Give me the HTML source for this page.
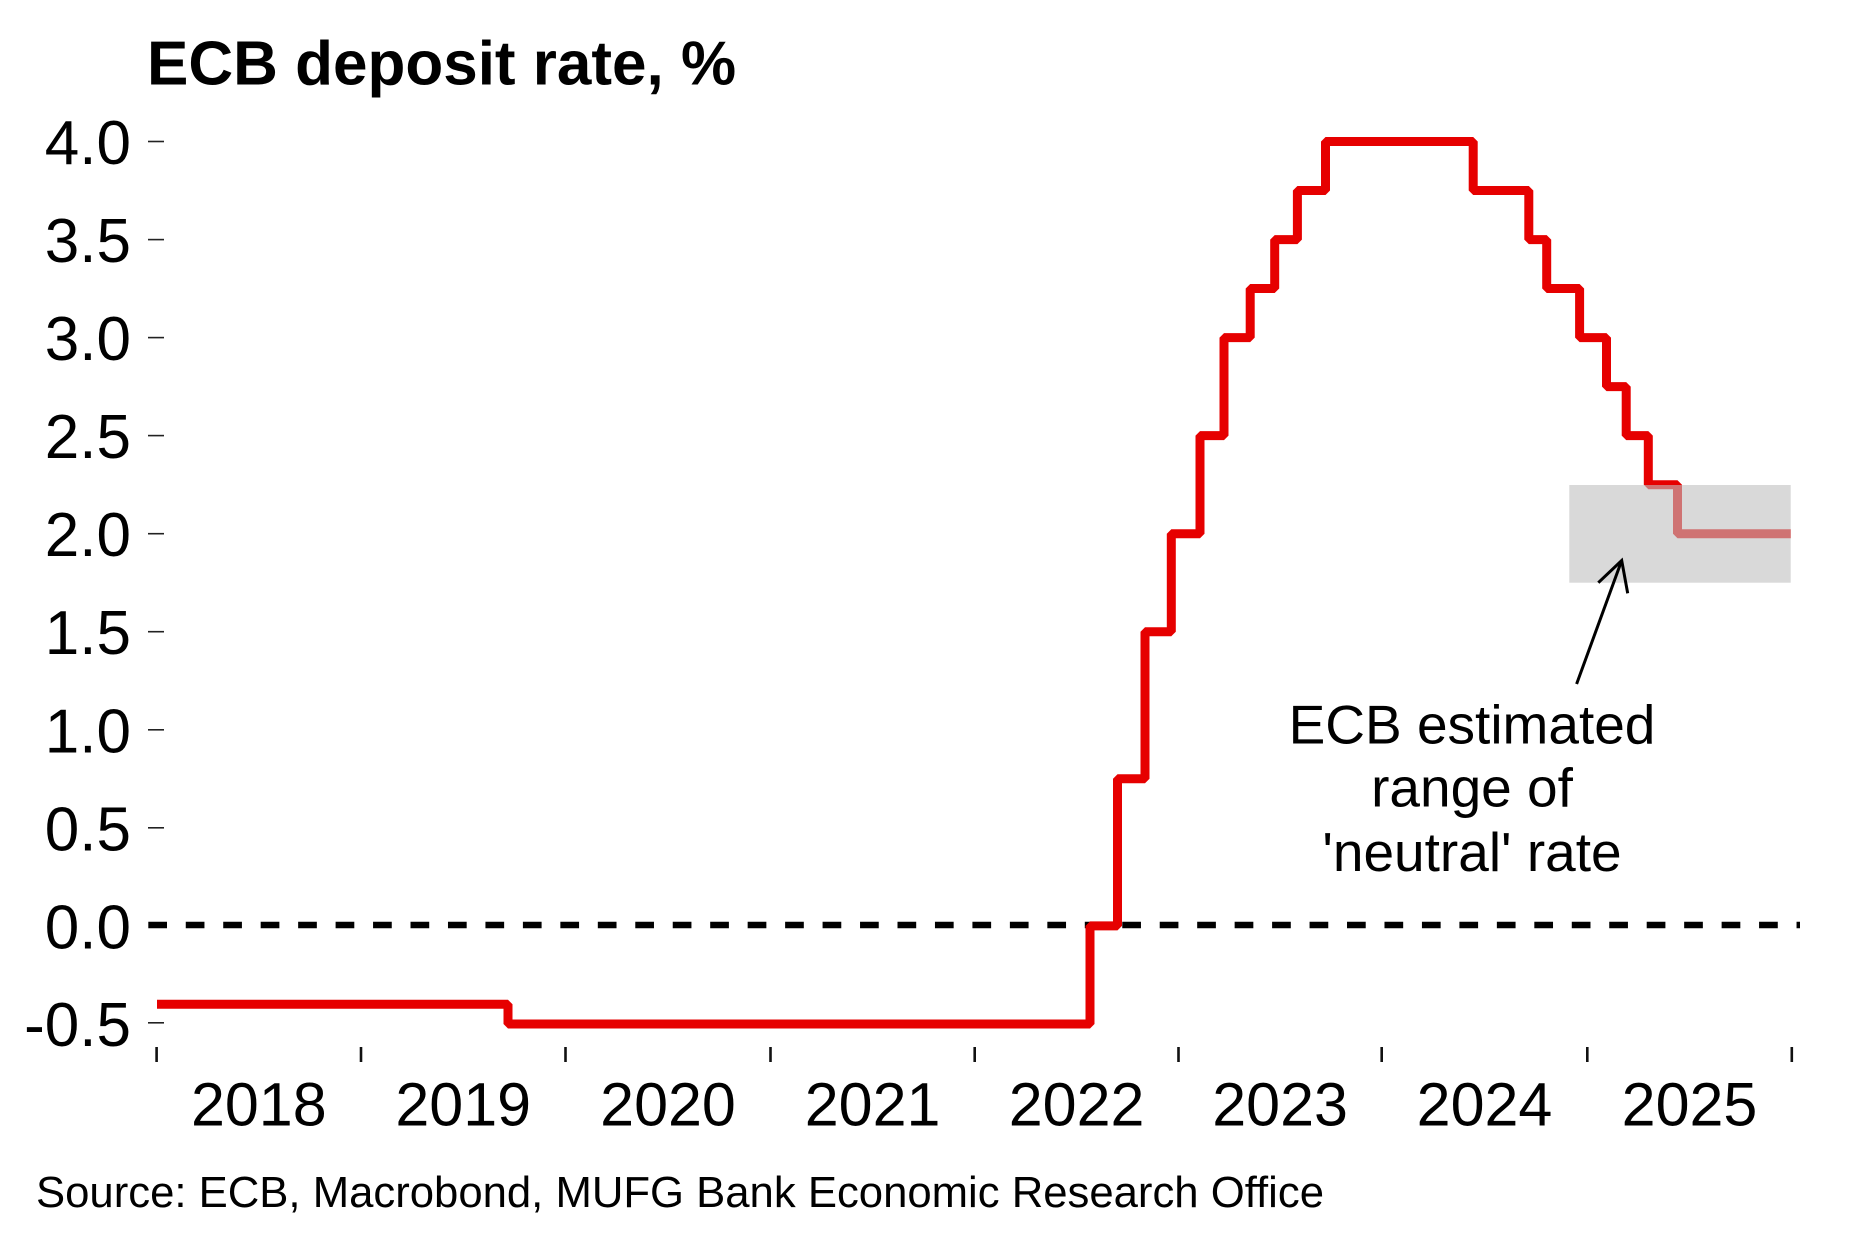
<!DOCTYPE html>
<html>
<head>
<meta charset="utf-8">
<style>
  html, body { margin: 0; padding: 0; background: #ffffff; }
  svg { display: block; }
  text { font-family: "Liberation Sans", Arial, sans-serif; fill: #000; }
</style>
</head>
<body>
<svg width="1874" height="1251" viewBox="0 0 1874 1251" xmlns="http://www.w3.org/2000/svg">
  <rect x="0" y="0" width="1874" height="1251" fill="#ffffff"/>

  <!-- Title -->
  <text x="147" y="84.5" font-size="62" font-weight="bold">ECB deposit rate, %</text>

  <!-- Y-axis tick marks -->
  <g stroke="#222" stroke-width="1.6">
    <line x1="148" y1="141.5" x2="164" y2="141.5"/>
    <line x1="148" y1="239.6" x2="164" y2="239.6"/>
    <line x1="148" y1="337.6" x2="164" y2="337.6"/>
    <line x1="148" y1="435.6" x2="164" y2="435.6"/>
    <line x1="148" y1="533.7" x2="164" y2="533.7"/>
    <line x1="148" y1="631.7" x2="164" y2="631.7"/>
    <line x1="148" y1="729.8" x2="164" y2="729.8"/>
    <line x1="148" y1="827.8" x2="164" y2="827.8"/>
    <line x1="148" y1="1022.8" x2="164" y2="1022.8"/>
  </g>

  <!-- Y-axis labels -->
  <g font-size="62" text-anchor="end">
    <text x="131" y="164">4.0</text>
    <text x="131" y="262.1">3.5</text>
    <text x="131" y="360.1">3.0</text>
    <text x="131" y="458.1">2.5</text>
    <text x="131" y="556.2">2.0</text>
    <text x="131" y="654.2">1.5</text>
    <text x="131" y="752.3">1.0</text>
    <text x="131" y="850.3">0.5</text>
    <text x="131" y="948.4">0.0</text>
    <text x="131" y="1046">-0.5</text>
  </g>

  <!-- X-axis ticks -->
  <g stroke="#111" stroke-width="2.6">
    <line x1="156.6" y1="1047" x2="156.6" y2="1062"/>
    <line x1="361" y1="1047" x2="361" y2="1062"/>
    <line x1="565.5" y1="1047" x2="565.5" y2="1062"/>
    <line x1="770.5" y1="1047" x2="770.5" y2="1062"/>
    <line x1="974.7" y1="1047" x2="974.7" y2="1062"/>
    <line x1="1178.5" y1="1047" x2="1178.5" y2="1062"/>
    <line x1="1381.7" y1="1047" x2="1381.7" y2="1062"/>
    <line x1="1587.3" y1="1047" x2="1587.3" y2="1062"/>
    <line x1="1791.8" y1="1047" x2="1791.8" y2="1062"/>
  </g>

  <!-- X-axis labels -->
  <g font-size="61" text-anchor="middle">
    <text x="258.8" y="1125.5">2018</text>
    <text x="463.2" y="1125.5">2019</text>
    <text x="668" y="1125.5">2020</text>
    <text x="872.6" y="1125.5">2021</text>
    <text x="1076.6" y="1125.5">2022</text>
    <text x="1280.1" y="1125.5">2023</text>
    <text x="1484.5" y="1125.5">2024</text>
    <text x="1689.5" y="1125.5">2025</text>
  </g>

  <!-- Zero dashed line -->
  <line x1="148.3" y1="925" x2="1800" y2="925" stroke="#000" stroke-width="6.5" stroke-dasharray="18.7 18.76"/>

  <!-- ECB deposit rate step line -->
  <polyline fill="none" stroke="#e60000" stroke-width="9" stroke-linejoin="bevel" stroke-linecap="butt"
    points="157,1004.3 508,1004.3 508,1024 1090,1024 1090,925.9 1117.5,925.9 1117.5,778.8 1145,778.8 1145,631.7 1171.3,631.7 1171.3,533.7 1200,533.7 1200,435.6 1224,435.6 1224,337.6 1250.2,337.6 1250.2,288.5 1274.7,288.5 1274.7,239.6 1297.4,239.6 1297.4,190.5 1325.5,190.5 1325.5,141.5 1473.2,141.5 1473.2,190.5 1528.8,190.5 1528.8,239.6 1546.7,239.6 1546.7,288.5 1579.6,288.5 1579.6,337.6 1606.5,337.6 1606.5,386.6 1626.2,386.6 1626.2,435.6 1648.3,435.6 1648.3,484.7 1677.5,484.7 1677.5,533.7 1790.7,533.7"/>

  <!-- Neutral range box (semi-transparent overlay) -->
  <rect x="1569.3" y="485" width="221.4" height="97.7" fill="rgb(192,192,192)" fill-opacity="0.6"/>

  <!-- Arrow -->
  <g stroke="#000" stroke-width="3" fill="none" stroke-linecap="butt">
    <line x1="1576.6" y1="684" x2="1621.7" y2="560.5"/>
    <polyline points="1598.3,582.7 1621.7,560.5 1627.7,593.3"/>
  </g>

  <!-- Annotation -->
  <g font-size="55" text-anchor="middle">
    <text x="1472" y="743.5">ECB estimated</text>
    <text x="1472" y="806.5">range of</text>
    <text x="1472" y="871">'neutral' rate</text>
  </g>

  <!-- Source -->
  <text x="36" y="1207" font-size="44" textLength="1288" lengthAdjust="spacingAndGlyphs">Source: ECB, Macrobond, MUFG Bank Economic Research Office</text>
</svg>
</body>
</html>
